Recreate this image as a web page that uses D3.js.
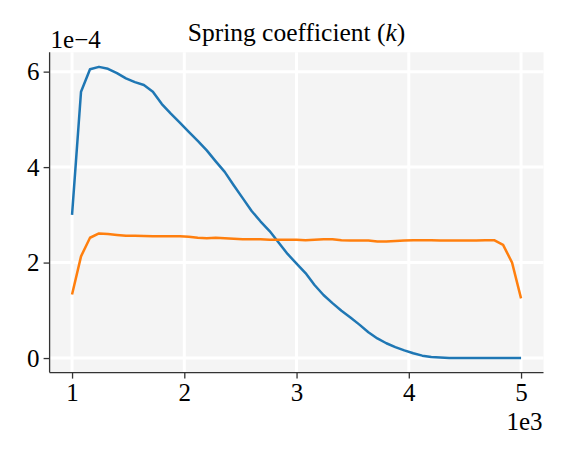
<!DOCTYPE html>
<html><head><meta charset="utf-8">
<script src="https://cdn.jsdelivr.net/npm/d3@7"></script>
<style>body{margin:0;background:#fff;} svg{display:block;font-family:"Liberation Serif","DejaVu Serif",serif;}</style>
</head><body>
<svg id="c" width="575" height="460"></svg>
<script>
const xValues = [1000,1080,1160,1240,1320,1400,1480,1560,1640,1720,1800,1880,1960,2040,2120,2200,2280,2360,2440,2520,2600,2680,2760,2840,2920,3000,3080,3160,3240,3320,3400,3480,3560,3640,3720,3800,3880,3960,4040,4120,4200,4280,4360,4440,4520,4600,4680,4760,4840,4920,5000];
const blueSeries = [3.0,5.58,6.05,6.10,6.06,5.97,5.86,5.78,5.72,5.58,5.32,5.12,4.93,4.74,4.55,4.35,4.12,3.90,3.62,3.35,3.08,2.86,2.66,2.42,2.18,1.98,1.78,1.53,1.32,1.15,0.99,0.85,0.70,0.54,0.41,0.31,0.23,0.16,0.10,0.05,0.02,0.01,0,0,0,0,0,0,0,0,0];
const orangeSeries = [1.33,2.13,2.52,2.61,2.60,2.58,2.56,2.56,2.555,2.55,2.55,2.55,2.55,2.54,2.52,2.51,2.52,2.51,2.50,2.49,2.49,2.49,2.48,2.48,2.48,2.48,2.47,2.48,2.49,2.49,2.47,2.46,2.46,2.46,2.44,2.44,2.45,2.46,2.47,2.47,2.47,2.46,2.46,2.46,2.46,2.46,2.47,2.47,2.37,2.0,1.25];
const xTicks = [1,2,3,4,5];
const yTicks = [0,2,4,6];
const titleText = "Spring coefficient (";
const titleVar = "k";

const svg = d3.select("#c");
const L = 49.6, R = 543.5, T = 52.3, B = 372.6;
const x = d3.scaleLinear().domain([800, 5200]).range([L, R]);
const y = d3.scaleLinear().domain([-0.305, 6.405]).range([B, T]);

svg.append("rect").attr("x", L).attr("y", T).attr("width", R - L).attr("height", B - T).attr("fill", "#f4f4f4");

const g = svg.append("g");
g.selectAll(".gx").data(xTicks).enter().append("line")
  .attr("x1", d => x(d*1000)).attr("x2", d => x(d*1000)).attr("y1", T).attr("y2", B)
  .attr("stroke", "#fff").attr("stroke-width", 3);
g.selectAll(".gy").data(yTicks).enter().append("line")
  .attr("y1", d => y(d)).attr("y2", d => y(d)).attr("x1", L).attr("x2", R)
  .attr("stroke", "#fff").attr("stroke-width", 3);

const line = (arr) => d3.line().x((d, i) => x(xValues[i])).y(d => y(d))(arr);
svg.append("path").attr("d", line(blueSeries)).attr("fill", "none").attr("stroke", "#1f77b4").attr("stroke-width", 2.5).attr("stroke-linejoin", "round");
svg.append("path").attr("d", line(orangeSeries)).attr("fill", "none").attr("stroke", "#ff7f0e").attr("stroke-width", 2.5).attr("stroke-linejoin", "round");

const xAxis = d3.axisBottom(x).tickValues(xTicks.map(d => d*1000)).tickFormat(d => d/1000).tickSize(6).tickPadding(4.5);
const yAxis = d3.axisLeft(y).tickValues(yTicks).tickFormat(d => d).tickSize(6).tickPadding(4);
const ax = svg.append("g").attr("transform", `translate(0,${B})`).call(xAxis);
const ay = svg.append("g").attr("transform", `translate(${L},0)`).call(yAxis);
[ax, ay].forEach(a => {
  a.attr("font-size", null).attr("font-family", null);
  a.select(".domain").attr("stroke", "#333").attr("stroke-width", 1.3);
  a.selectAll(".tick line").attr("stroke", "#333").attr("stroke-width", 1.3);
  a.selectAll(".tick text").attr("fill", "#000").style("font-size", "25px");
});
ax.select(".domain").attr("d", `M${L},0H${R}`);
ay.select(".domain").attr("d", `M0,${T}V${B}`);

svg.append("text").attr("x", L + 1).attr("y", 47.7).style("font-size", "25px").text("1e\u22124");
svg.append("text").attr("x", R - 1).attr("y", 430).attr("text-anchor", "end").style("font-size", "25px").text("1e3");

const t = svg.append("text").attr("x", (L + R) / 2).attr("y", 41).attr("text-anchor", "middle").style("font-size", "25.5px");
t.append("tspan").text(titleText);
t.append("tspan").style("font-style", "italic").text(titleVar);
t.append("tspan").text(")");
</script>
</body></html>
